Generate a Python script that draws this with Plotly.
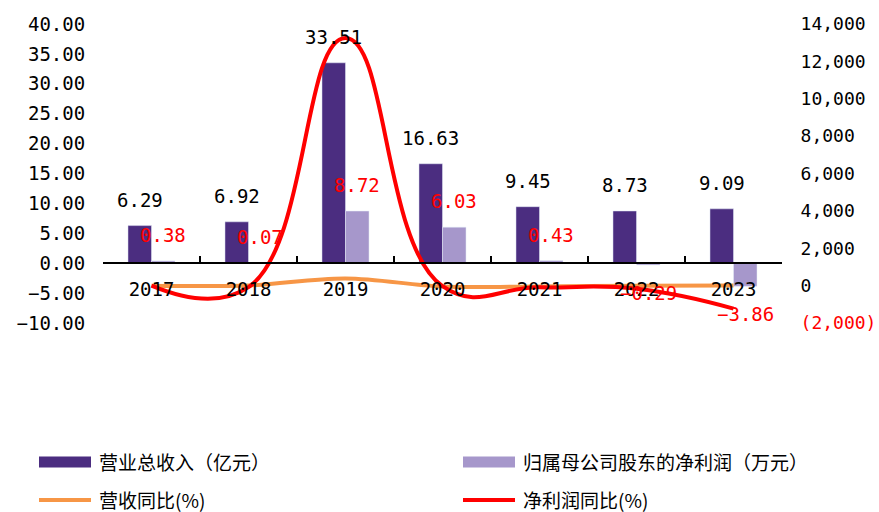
import plotly.graph_objects as go

years = ["2017", "2018", "2019", "2020", "2021", "2022", "2023"]
revenue = [6.29, 6.92, 33.51, 16.63, 9.45, 8.73, 9.09]          # 营业总收入（亿元）
net_profit = [0.38, 0.07, 8.72, 6.03, 0.43, -0.29, -3.86]       # 归属母公司股东的净利润
rev_yoy = [0, 10, 384, -50, -43, -8, 4]                         # 营收同比(%)
np_yoy = [0, -82, 13250, -31, -93, -167, -1231]                 # 净利润同比(%)

left_ticks = [40, 35, 30, 25, 20, 15, 10, 5, 0, -5, -10]
right_ticks = [14000, 12000, 10000, 8000, 6000, 4000, 2000, 0, -2000]

DARK = "#4B2D80"
LIGHT = "#A697CB"
ORANGE = "#F79646"
RED = "#FF0000"
NUMFONT = "DejaVu Sans Mono"
CJK = "Noto Sans CJK SC"

W, H = 879, 512
L, R, T, B = 103, 782, 24, 323

def px(x):
    return (x - L) / (R - L)

def py(y):
    return (B - y) / (B - T)

fig = go.Figure()
fig.add_trace(go.Bar(x=years, y=revenue, marker_color=DARK, yaxis="y",
                     name="营业总收入（亿元）", showlegend=False))
fig.add_trace(go.Bar(x=years, y=net_profit, marker_color=LIGHT, yaxis="y",
                     name="归属母公司股东的净利润（万元）", showlegend=False))
fig.add_trace(go.Scatter(x=years, y=rev_yoy, yaxis="y2", mode="lines",
                         line=dict(color=ORANGE, width=4, shape="spline", smoothing=1),
                         name="营收同比(%)", showlegend=False))
fig.add_trace(go.Scatter(x=years, y=np_yoy, yaxis="y2", mode="lines",
                         line=dict(color=RED, width=4, shape="spline", smoothing=1.3),
                         name="净利润同比(%)", showlegend=False))

annotations = []
for i, v in enumerate(revenue):
    annotations.append(dict(x=i, y=v, xref="x", yref="y", text=f"{v:.2f}",
                            showarrow=False, xshift=-11.75, yshift=26,
                            font=dict(family=NUMFONT, size=19, color="black")))
for i, v in enumerate(net_profit):
    annotations.append(dict(x=i, y=v, xref="x", yref="y", text=f"{v:.2f}".replace("-", "−"),
                            showarrow=False, xshift=11.75, yshift=26 if v >= 0 else -28,
                            font=dict(family=NUMFONT, size=19, color=RED)))

# manual legend
legend_items = [
    ("bar", DARK, "营业总收入（亿元）", 39, 462),
    ("bar", LIGHT, "归属母公司股东的净利润（万元）", 463, 462),
    ("line", ORANGE, "营收同比(%)", 39, 500),
    ("line", RED, "净利润同比(%)", 463, 500),
]
shapes = []
for kind, col, label, x0, yc in legend_items:
    if kind == "bar":
        shapes.append(dict(type="rect", xref="paper", yref="paper",
                           x0=px(x0), x1=px(x0 + 52), y0=py(yc - 5.5), y1=py(yc + 5.5),
                           fillcolor=col, line=dict(width=0)))
    else:
        shapes.append(dict(type="line", xref="paper", yref="paper",
                           x0=px(x0), x1=px(x0 + 52), y0=py(yc), y1=py(yc),
                           line=dict(color=col, width=4)))
    annotations.append(dict(x=px(x0 + 58), y=py(yc - 1), xref="paper", yref="paper",
                            text=label, showarrow=False, xanchor="left", yanchor="middle",
                            font=dict(family=CJK, size=19, color="black")))

right_text = [f"{v:,}" if v >= 0 else f"<span style='color:red'>({abs(v):,})</span>" for v in right_ticks]
left_text = [f"{v:.2f}".replace("-", "−") for v in left_ticks]

fig.update_layout(
    width=W, height=H,
    margin=dict(l=L, r=W - R, t=T, b=H - B),
    paper_bgcolor="white", plot_bgcolor="white",
    barmode="group", bargap=0.515, bargroupgap=0,
    showlegend=False,
    font=dict(family=NUMFONT, size=19, color="black"),
    xaxis=dict(type="category", range=[-0.5, 6.5], anchor="free", position=0.2,
               showline=True, linecolor="black", linewidth=2,
               ticks="inside", ticklen=6, tickwidth=1.5, tickcolor="black",
               tickson="boundaries", showgrid=False, zeroline=False,
               ticklabelstandoff=9, automargin=False,
               tickfont=dict(family=NUMFONT, size=19, color="black")),
    yaxis=dict(range=[-10, 40], tickvals=left_ticks, ticktext=left_text,
               showgrid=False, zeroline=False, showline=False, automargin=False,
               ticks="outside", ticklen=13, tickcolor="rgba(0,0,0,0)",
               tickfont=dict(family=NUMFONT, size=19, color="black")),
    yaxis2=dict(range=[-2000, 14000], overlaying="y", side="right", anchor="x",
                tickvals=right_ticks, ticktext=right_text, automargin=False,
                showgrid=False, zeroline=False, showline=False,
                ticks="outside", ticklen=14, tickcolor="rgba(0,0,0,0)",
                tickfont=dict(family=NUMFONT, size=18, color="black")),
    annotations=annotations,
    shapes=shapes,
)

fig.write_html("out.html")
